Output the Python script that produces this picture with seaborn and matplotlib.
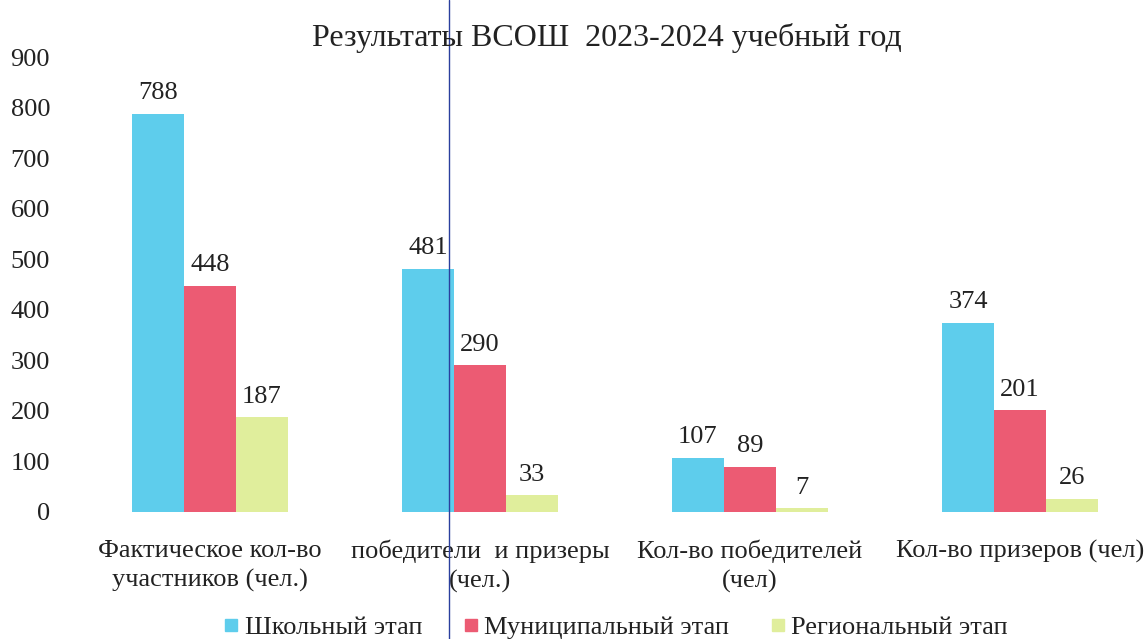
import matplotlib
matplotlib.use("Agg")
import matplotlib.pyplot as plt
from matplotlib.lines import Line2D
import numpy as np
import pandas as pd
import seaborn as sns

# data
categories = [
    "Фактическое кол-во\nучастников (чел.)",
    "победители  и призеры\n(чел.)",
    "Кол-во победителей\n(чел)",
    "Кол-во призеров (чел)",
]
stages = ["Школьный этап", "Муниципальный этап", "Региональный этап"]
school = [788, 481, 107, 374]
municipal = [448, 290, 89, 201]
regional = [187, 33, 7, 26]
colors = ["#5ecdec", "#ec5b73", "#e0ee9c"]

df = pd.DataFrame({
    "category": categories * 3,
    "stage": [stages[0]] * 4 + [stages[1]] * 4 + [stages[2]] * 4,
    "value": school + municipal + regional,
})

sns.set_theme(style="white")
plt.rcParams["font.family"] = ["Liberation Serif", "DejaVu Serif"]

fig = plt.figure(figsize=(11.47, 6.39), dpi=100)
W, H = 1147, 639
# axes placed so that category centres fall at the same pixels as the reference
ax = fig.add_axes([75 / W, (H - 512) / H, (W - 75) / W, (512 - 57) / H])

sns.barplot(data=df, x="category", y="value", hue="stage", hue_order=stages,
            palette=colors, width=0.578, gap=0, saturation=1, ax=ax,
            legend=False, linewidth=0)

for cont in ax.containers:
    ax.bar_label(cont, padding=7, fontsize=19, color="#222222")

ax.set_xlim(-0.5, (W - 75) / 270 - 0.5)
ax.set_ylim(0, 900)
ax.set_yticks(np.arange(0, 901, 100))
ax.tick_params(axis="y", labelsize=19, colors="#222222", length=0, pad=18)
ax.tick_params(axis="x", labelsize=19, colors="#222222", length=0, pad=20)
for lbl in ax.get_xticklabels():
    lbl.set_linespacing(1.4)
ax.set_xlabel("")
ax.set_ylabel("")
sns.despine(ax=ax, left=True, bottom=True)

fig.text(607 / W, 1 - 38 / H, "Результаты ВСОШ  2023-2024 учебный год",
         ha="center", va="center", fontsize=23, color="#222222")

handles = [Line2D([0], [0], marker="s", linestyle="", markersize=8,
                  markerfacecolor=c, markeredgecolor=c) for c in colors]
fig.legend(handles, stages, loc="center", bbox_to_anchor=(615 / W, 1 - 627 / H),
           ncol=3, frameon=False, fontsize=19, handletextpad=0.15,
           columnspacing=1.5, handlelength=0.7, labelcolor="#222222",
           borderpad=0)

# thin vertical scan line present in the source image
fig.add_artist(Line2D([449 / W, 449 / W], [0, 1], transform=fig.transFigure,
                      color="#2a3f9e", linewidth=1))

fig.savefig("out.png", dpi=100)
